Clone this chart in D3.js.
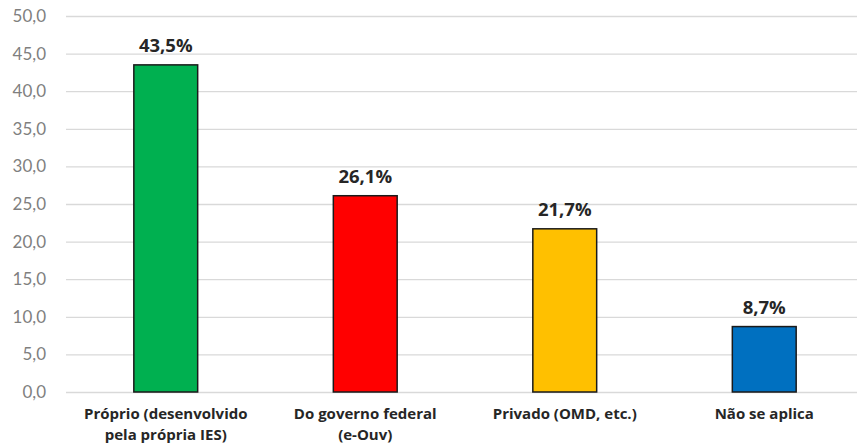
<!DOCTYPE html>
<html>
<head>
<meta charset="utf-8">
<script src="https://cdn.jsdelivr.net/npm/d3@7"></script>
<style>
  html, body { margin: 0; padding: 0; background: #fff; }
  svg { display: block; }
</style>
</head>
<body>
<svg id="chart" width="857" height="443"></svg>
<script>
// Categories (each split into display lines) and their percentages
const categories = [
  ["Próprio (desenvolvido", "pela própria IES)"],
  ["Do governo federal", "(e-Ouv)"],
  ["Privado (OMD, etc.)"],
  ["Não se aplica"]
];
const values = [43.5, 26.1, 21.7, 8.7];
const colors = ["#00b050", "#ff0000", "#ffc000", "#0070c0"];
const yTicks = [0, 5, 10, 15, 20, 25, 30, 35, 40, 45, 50];

const fmt = v => d3.format(".1f")(v).replace(".", ",");

const svg = d3.select("#chart");
const plot = { left: 66, right: 864, top: 16, bottom: 392 };

const x = d3.scaleBand()
  .domain(d3.range(values.length))
  .range([plot.left, plot.right])
  .paddingInner(0.68)
  .paddingOuter(0.34);

const y = d3.scaleLinear().domain([0, 50]).range([plot.bottom, plot.top]);

// Horizontal gridlines and value axis
const yAxis = d3.axisLeft(y)
  .tickValues(yTicks)
  .tickFormat(fmt)
  .tickSize(-(plot.right - plot.left))
  .tickPadding(20);

const gy = svg.append("g")
  .attr("transform", `translate(${plot.left},0)`)
  .call(yAxis);
gy.select(".domain").remove();
gy.selectAll(".tick line").attr("stroke", "#d9d9d9").attr("stroke-width", 1.3);
gy.selectAll(".tick text")
  .attr("fill", "#7f7f7f")
  .style("font-family", "Lato, 'Open Sans', sans-serif")
  .style("font-size", "17px");

// Bars
svg.append("g").selectAll("rect")
  .data(values)
  .join("rect")
  .attr("x", (d, i) => x(i))
  .attr("width", x.bandwidth())
  .attr("y", d => y(d))
  .attr("height", d => y(0) - y(d))
  .attr("fill", (d, i) => colors[i])
  .attr("stroke", "#1a1a1a")
  .attr("stroke-width", 1.5);

// Value labels
svg.append("g").selectAll("text")
  .data(values)
  .join("text")
  .attr("x", (d, i) => x(i) + x.bandwidth() / 2)
  .attr("y", d => y(d) - 13)
  .attr("text-anchor", "middle")
  .attr("fill", "#262626")
  .style("font-family", "'Open Sans', Lato, sans-serif")
  .style("font-weight", "bold")
  .style("font-size", "18.5px")
  .text(d => fmt(d) + "%");

// Category labels (two-line names get a second tspan)
const cat = svg.append("g").selectAll("text")
  .data(categories)
  .join("text")
  .attr("x", (d, i) => x(i) + x.bandwidth() / 2)
  .attr("y", 419)
  .attr("text-anchor", "middle")
  .attr("fill", "#262626")
  .style("font-family", "'Open Sans', Lato, sans-serif")
  .style("font-weight", "bold")
  .style("font-size", "15px");
cat.selectAll("tspan")
  .data(d => d)
  .join("tspan")
  .attr("x", function() { return d3.select(this.parentNode).attr("x"); })
  .attr("dy", (d, i) => i === 0 ? 0 : 20.6)
  .text(d => d);
</script>
</body>
</html>
